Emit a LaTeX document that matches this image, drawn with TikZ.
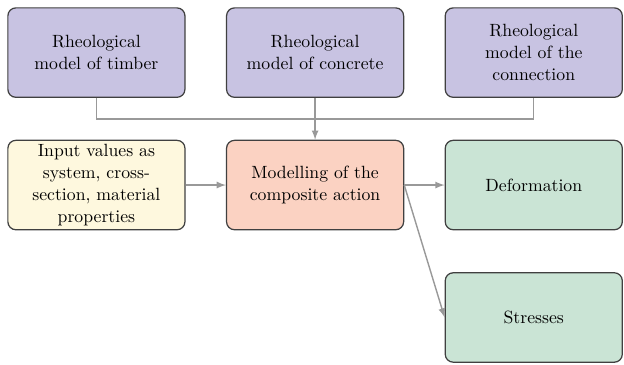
\documentclass[tikz,border=0pt]{standalone}
\usepackage{tikz}
\usetikzlibrary{matrix}

\definecolor{rheofill}{RGB}{200,195,226}
\definecolor{inputfill}{RGB}{254,248,222}
\definecolor{modelfill}{RGB}{251,210,194}
\definecolor{resultfill}{RGB}{202,228,213}

\tikzset{
    box/.style={rectangle, draw=black!75, line width=0.7pt, rounded corners=4.5pt,
        font=\fontsize{10pt}{12.5pt}\selectfont, text width=93pt,
        align=center, minimum width=100pt, minimum height=50.5pt},
    rheo/.style={box, fill=rheofill},
    inbox/.style={box, fill=inputfill},
    modbox/.style={box, fill=modelfill},
    resbox/.style={box, fill=resultfill},
    conn/.style={draw=black!40, line width=0.8pt},
    flow/.style={conn, -latex}
}

\begin{document}
\begin{tikzpicture}
    \matrix (m) [inner sep=0pt, column sep=22.8pt, row sep=23.6pt]{
        \node[rheo] (timber) {Rheological\\model of timber}; &
        \node[rheo] (concrete) {Rheological\\model of concrete}; &
        \node[rheo] (connection) {Rheological\\model of the\\connection}; \\
        \node[inbox] (input) {Input values as\\system, cross-\\section, material\\properties}; &
        \node[modbox] (model) {Modelling of the\\composite action}; &
        \node[resbox] (deform) {Deformation}; \\
        & & \node[resbox] (stress) {Stresses}; \\
    };
    \useasboundingbox ([xshift=-3.9pt,yshift=3.9pt]m.north west) rectangle ([xshift=0.4pt,yshift=-0.6pt]m.south east);
    \path (concrete.south) -- (model.north) coordinate[midway] (j);
    \draw [conn] (timber.south) |- (j) -| (connection.south);
    \draw [flow] (concrete.south) -- (model.north);
    \draw [flow] (input.east) -- (model.west);
    \draw [flow] (model.east) -- (deform.west);
    \draw [flow] (model.east) -- (stress.west);
\end{tikzpicture}
\end{document}
